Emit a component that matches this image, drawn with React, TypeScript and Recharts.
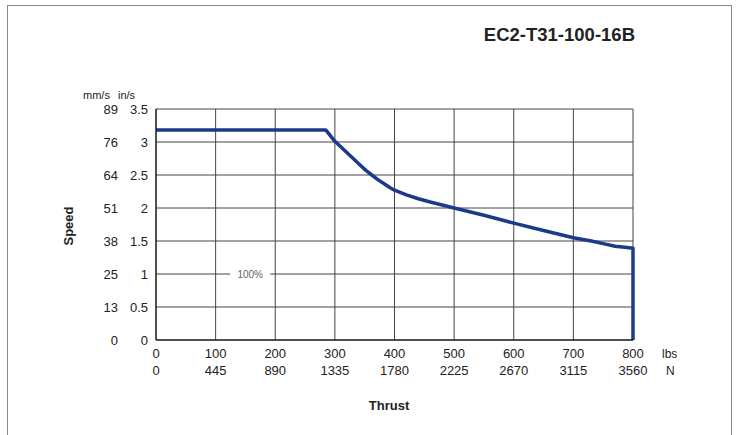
import React from "react";
import { LineChart, Line, XAxis, YAxis, CartesianGrid, ReferenceDot } from "recharts";

const thrustLbs = [0, 285, 300, 320, 340, 352, 362, 372, 382, 392, 400, 420, 440, 460, 500, 550, 600, 650, 700, 730, 750, 770, 790, 800, 800];
const speedIn = [3.18, 3.18, 3.01, 2.84, 2.67, 2.57, 2.5, 2.43, 2.37, 2.31, 2.27, 2.2, 2.14, 2.09, 2.0, 1.89, 1.77, 1.66, 1.55, 1.5, 1.46, 1.42, 1.4, 1.39, 0];

const xTicksLbs = [0, 100, 200, 300, 400, 500, 600, 700, 800];
const xTicksN = ["0", "445", "890", "1335", "1780", "2225", "2670", "3115", "3560"];
const yTicksIn = [0, 0.5, 1, 1.5, 2, 2.5, 3, 3.5];
const yTicksInLabels = ["0", "0.5", "1", "1.5", "2", "2.5", "3", "3.5"];
const yTicksMm = ["0", "13", "25", "38", "51", "64", "76", "89"];

const title = "EC2-T31-100-16B";
const curveLabel = "100%";

const data = thrustLbs.map((t, i) => ({ thrust: t, speed: speedIn[i] }));

const FONT = "'Liberation Sans', Arial, sans-serif";
const TXT = "#222";

const YTick = (props: any) => {
  const { x, y, payload } = props;
  const i = yTicksIn.indexOf(payload.value);
  return (
    <g>
      <text x={x} y={y} dy={4.5} textAnchor="end" fontSize={13} fill={TXT} fontFamily={FONT}>
        {yTicksInLabels[i]}
      </text>
      <text x={x - 30} y={y} dy={4.5} textAnchor="end" fontSize={13} fill={TXT} fontFamily={FONT}>
        {yTicksMm[i]}
      </text>
    </g>
  );
};

const XTick = (props: any) => {
  const { x, y, payload } = props;
  const i = xTicksLbs.indexOf(payload.value);
  const last = i === xTicksLbs.length - 1;
  return (
    <g>
      <text x={x} y={y + 18} textAnchor="middle" fontSize={13} fill={TXT} fontFamily={FONT}>
        {String(xTicksLbs[i])}
      </text>
      <text x={x} y={y + 35} textAnchor="middle" fontSize={13} fill={TXT} fontFamily={FONT}>
        {xTicksN[i]}
      </text>
      {last && (
        <>
          <text x={x + 29} y={y + 18} textAnchor="start" fontSize={12} fill={TXT} fontFamily={FONT}>
            lbs
          </text>
          <text x={x + 33} y={y + 35} textAnchor="start" fontSize={12} fill={TXT} fontFamily={FONT}>
            N
          </text>
        </>
      )}
    </g>
  );
};

const LabelShape = (props: any) => {
  const { cx, cy } = props;
  return (
    <g>
      <rect x={cx - 20} y={cy - 6} width={40} height={12} fill="#fff" />
      <text x={cx} y={cy} dy={4} textAnchor="middle" fontSize={10} fill="#666" fontFamily={FONT}>
        {curveLabel}
      </text>
    </g>
  );
};

export default function App() {
  return (
    <div style={{ position: "fixed", left: 0, top: 0, width: 738, height: 435, background: "#fff", overflow: "hidden", fontFamily: FONT }}>
      <div style={{ position: "absolute", left: 7, top: 5, width: 725, height: 460, border: "1px solid #888", boxSizing: "border-box" }} />
      <LineChart width={738} height={435} data={data} margin={{ top: 109, right: 105, bottom: 55, left: 0 }}>
        <CartesianGrid stroke="#444" strokeWidth={1} />
        <XAxis
          dataKey="thrust"
          type="number"
          domain={[0, 800]}
          ticks={xTicksLbs}
          tick={<XTick />}
          tickLine={false}
          tickSize={0}
          tickMargin={0}
          axisLine={{ stroke: "#000" }}
          height={40}
          interval={0}
        />
        <YAxis
          type="number"
          domain={[0, 3.5]}
          ticks={yTicksIn}
          tick={<YTick />}
          tickLine={false}
          tickSize={0}
          tickMargin={8}
          axisLine={{ stroke: "#000" }}
          width={156}
          interval={0}
        />
        <ReferenceDot x={158} y={1} shape={<LabelShape />} ifOverflow="visible" />
        <Line
          type="linear"
          dataKey="speed"
          stroke="#1c3a8c"
          strokeWidth={3.5}
          strokeLinejoin="round"
          dot={false}
          activeDot={false}
          isAnimationActive={false}
        />
      </LineChart>
      <div style={{ position: "absolute", right: 103, top: 24, fontSize: 18.5, fontWeight: "bold", color: "#222" }}>{title}</div>
      <div style={{ position: "absolute", left: 83, top: 89, fontSize: 11, color: "#222" }}>mm/s</div>
      <div style={{ position: "absolute", left: 118, top: 89, fontSize: 11, color: "#222" }}>in/s</div>
      <div style={{ position: "absolute", left: 68, top: 226, fontSize: 13, fontWeight: "bold", color: "#222", transform: "translate(-50%, -50%) rotate(-90deg)" }}>Speed</div>
      <div style={{ position: "absolute", left: 389, top: 405, fontSize: 13, fontWeight: "bold", color: "#222", transform: "translate(-50%, -50%)" }}>Thrust</div>
    </div>
  );
}
